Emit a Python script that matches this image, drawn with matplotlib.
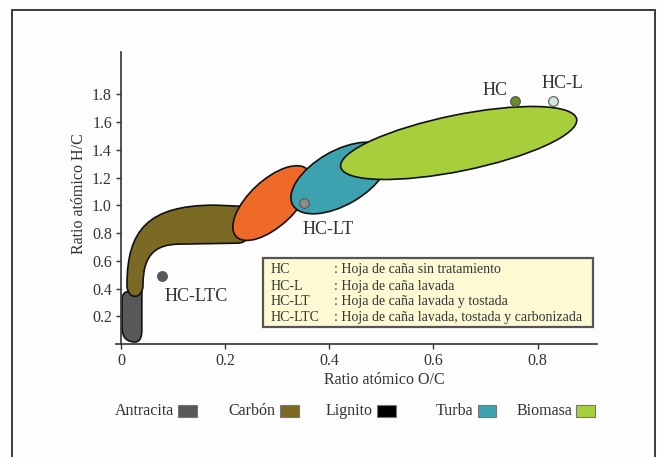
#! /usr/bin/env python3

import numpy as np
import matplotlib.pyplot as plt
from matplotlib.path import Path
from matplotlib.patches import PathPatch, Rectangle
from matplotlib.transforms import Affine2D

plt.rcParams['font.family'] = ['Liberation Serif', 'DejaVu Serif']

TXT = '#333333'

# region outlines (O/C, H/C)
antracita_x = [0.002, 0.002, 0.010, 0.021, 0.040, 0.040, 0.040, 0.029, 0.023, 0.006, 0.002, 0.002, 0.002]
antracita_y = [0.316, 0.373, 0.381, 0.381, 0.381, 0.099, 0.012, 0.012, 0.015, 0.025, 0.063, 0.135, 0.316]
antracita_codes = [Path.MOVETO, Path.CURVE4, Path.CURVE4, Path.CURVE4, Path.LINETO, Path.LINETO,
                   Path.CURVE4, Path.CURVE4, Path.CURVE4, Path.CURVE4, Path.CURVE4, Path.CURVE4,
                   Path.CLOSEPOLY]

carbon_x = [0.0115, 0.0115, 0.0518, 0.1804, 0.2246, 0.2591, 0.2591, 0.2246, 0.1132,
            0.0653, 0.0422, 0.0422, 0.0422, 0.0115, 0.0115, 0.0115]
carbon_y = [0.424, 0.821, 1.001, 1.001, 0.994, 0.987, 0.727, 0.727, 0.720,
            0.720, 0.640, 0.424, 0.316, 0.316, 0.424, 0.424]
carbon_codes = [Path.MOVETO, Path.CURVE4, Path.CURVE4, Path.CURVE4, Path.LINETO,
                Path.CURVE4, Path.CURVE4, Path.CURVE4, Path.LINETO,
                Path.CURVE4, Path.CURVE4, Path.CURVE4,
                Path.CURVE4, Path.CURVE4, Path.CURVE4, Path.CLOSEPOLY]

# ellipses: centre and two conjugate half-axes, in data units
lignito_c = [0.2897, 1.0159]
lignito_a = [0.0687, 0.2404]
lignito_b = [0.0300, -0.1213]

turba_c = [0.4201, 1.1964]
turba_a = [0.0902, 0.1949]
turba_b = [0.0258, -0.1690]

biomasa_c = [0.6484, 1.4491]
biomasa_a = [0.2265, 0.1733]
biomasa_b = [0.0107, -0.1980]

# samples
samples = ['HC', 'HC-L', 'HC-LT', 'HC-LTC']
sample_oc = [0.757, 0.829, 0.351, 0.078]
sample_hc = [1.755, 1.755, 1.014, 0.489]
sample_colors = ['#6b8b2c', '#cfe9dc', '#8c8c8e', '#58585a']
label_oc = [0.719, 0.847, 0.397, 0.144]
label_hc = [1.827, 1.875, 0.826, 0.344]

descriptions = [': Hoja de caña sin tratamiento',
                ': Hoja de caña lavada',
                ': Hoja de caña lavada y tostada',
                ': Hoja de caña lavada, tostada y carbonizada']

legend_names = ['Antracita', 'Carbón', 'Lignito', 'Turba', 'Biomasa']
legend_colors = ['#58585a', '#7b6a24', '#000000', '#3ca2b0', '#a7cf3b']

x_ticks = [0, 0.2, 0.4, 0.6, 0.8]
y_ticks = [0.2, 0.4, 0.6, 0.8, 1.0, 1.2, 1.4, 1.6, 1.8]


def ellipse_patch(ax, c, a, b, color):
    m = Affine2D.from_values(a[0], a[1], b[0], b[1], c[0], c[1])
    p = PathPatch(Path.unit_circle(), transform=m + ax.transData,
                  facecolor=color, edgecolor='#111111', linewidth=1.2)
    ax.add_patch(p)


fig = plt.figure(figsize=(6.57, 4.57), dpi=100)
fig.patch.set_facecolor('#fdfdfd')
fig.add_artist(Rectangle((0.0183, -0.1), 0.9787, 1.078, transform=fig.transFigure,
                         fill=False, edgecolor='#3a3a3a', linewidth=1.4))

ax = fig.add_axes([116 / 657, 0.2473, 481 / 657, 0.6389])
ax.set_facecolor('none')
ax.set_xlim(-0.0096, 0.914)
ax.set_ylim(0, 2.105)

ax.add_patch(PathPatch(Path(np.column_stack([antracita_x, antracita_y]), antracita_codes),
                       facecolor=legend_colors[0], edgecolor='#111111', linewidth=1.2))
ax.add_patch(PathPatch(Path(np.column_stack([carbon_x, carbon_y]), carbon_codes),
                       facecolor=legend_colors[1], edgecolor='#111111', linewidth=1.2))
ellipse_patch(ax, lignito_c, lignito_a, lignito_b, '#ef6a28')
ellipse_patch(ax, turba_c, turba_a, turba_b, legend_colors[3])
ellipse_patch(ax, biomasa_c, biomasa_a, biomasa_b, legend_colors[4])

for i in range(len(samples)):
    ax.plot(sample_oc[i], sample_hc[i], 'o', markersize=7, color=sample_colors[i],
            markeredgecolor='#555555', markeredgewidth=0.8, zorder=5)
    ax.text(label_oc[i], label_hc[i], samples[i], ha='center', va='center',
            fontsize=13, color=TXT)

# description box
ax.add_patch(Rectangle((0.3056, 0.0582), 0.6861, 0.2363, transform=ax.transAxes,
                       facecolor='#fdfad3', edgecolor='#555555', linewidth=1.6, zorder=6))
row_y = [0.2534, 0.1969, 0.1438, 0.0890]
for i in range(len(samples)):
    ax.text(0.3222, row_y[i], samples[i], transform=ax.transAxes, fontsize=10,
            va='center', color=TXT, zorder=7)
    ax.text(0.4532, row_y[i], descriptions[i], transform=ax.transAxes, fontsize=10,
            va='center', color=TXT, zorder=7)

ax.spines['top'].set_visible(False)
ax.spines['right'].set_visible(False)
ax.spines['left'].set_position(('data', 0))
for s in ['left', 'bottom']:
    ax.spines[s].set_color('#333333')
    ax.spines[s].set_linewidth(1.2)

ax.set_xticks(x_ticks)
ax.set_xticklabels(['0', '0.2', '0.4', '0.6', '0.8'])
ax.set_yticks(y_ticks)
ax.set_yticklabels(['%.1f' % v for v in y_ticks])
ax.tick_params(direction='out', length=3.5, width=1, color='#333333',
               labelsize=11.5, labelcolor=TXT, pad=3)

ax.set_xlabel('Ratio atómico O/C', fontsize=11.5, color=TXT, va='center')
ax.xaxis.set_label_coords(0.5572, -0.123)
ax.set_ylabel('Ratio atómico H/C', fontsize=11.5, color=TXT, va='center')
ax.yaxis.set_label_coords(-0.077, 0.5137)

# bottom legend
text_right = [174, 275.5, 373, 473.5, 572]
for i in range(len(legend_names)):
    x_r = text_right[i] / 657
    fig.text(x_r, 0.1007, legend_names[i], ha='right', va='center',
             fontsize=11.5, color=TXT)
    fig.add_artist(Rectangle((x_r + 4 / 657, 0.1007 - 6 / 457), 19 / 657, 12 / 457,
                             transform=fig.transFigure, facecolor=legend_colors[i],
                             edgecolor='#777777', linewidth=0.8))

plt.savefig('out.png', dpi=100, facecolor=fig.get_facecolor())
plt.close()
